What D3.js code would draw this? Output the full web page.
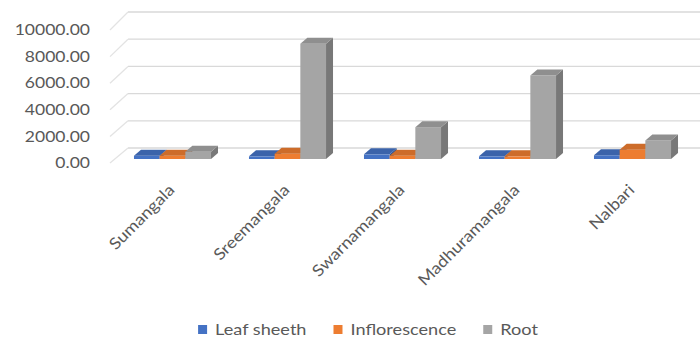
<!DOCTYPE html>
<html>
<head>
<meta charset="utf-8">
<script src="https://cdn.jsdelivr.net/npm/d3@7"></script>
<style>
  html, body { margin: 0; padding: 0; background: #ffffff; }
  svg { display: block; }
  text { font-family: Lato, "Open Sans", sans-serif; fill: #595959; }
</style>
</head>
<body>
<svg id="chart" width="700" height="340"></svg>
<script>
// Varieties along the category axis
const categories = ["Sumangala", "Sreemangala", "Swarnamangala", "Madhuramangala", "Nalbari"];
// Plant parts (series)
const seriesNames = ["Leaf sheeth", "Inflorescence", "Root"];
const leafSheath = [250, 200, 350, 200, 280];
const inflorescence = [250, 400, 250, 200, 700];
const root = [550, 8700, 2400, 6300, 1400];
const seriesColors = ["#4472c4", "#ed7d31", "#a5a5a5"];
// Value axis ticks
const yTicks = [0, 2000, 4000, 6000, 8000, 10000];
const yTickLabels = ["0.00", "2000.00", "4000.00", "6000.00", "8000.00", "10000.00"];

const seriesValues = [leafSheath, inflorescence, root];
const svg = d3.select("#chart");

// Category bands and bars within each band
const x = d3.scaleBand().domain(categories).range([115, 690])
  .paddingInner(0.33).paddingOuter(0.165);
const xs = d3.scaleBand().domain(seriesNames).range([0, x.bandwidth()]);

// Front plane of the bars, front edge of the floor, back wall
const y = d3.scaleLinear().domain([0, 10000]).range([159, 26.5]);
const yFront = d3.scaleLinear().domain([0, 10000]).range([163, 30]);
const yBack = d3.scaleLinear().domain([0, 10000]).range([148, 12]);
const wallLeft = 128, frontLeft = 110, rightEdge = 700;

// Gridlines on the back wall plus the side-wall diagonals
const grid = svg.append("g");
yTicks.forEach(v => {
  grid.append("line")
    .attr("x1", wallLeft).attr("x2", rightEdge)
    .attr("y1", yBack(v)).attr("y2", yBack(v))
    .attr("stroke", "#d9d9d9").attr("stroke-width", 1.3);
  grid.append("line")
    .attr("x1", frontLeft).attr("y1", yFront(v))
    .attr("x2", wallLeft).attr("y2", yBack(v))
    .attr("stroke", "#e3e3e3").attr("stroke-width", 1.3);
});

// Value axis labels (glyphs slightly widened)
svg.append("g").selectAll("text").data(yTicks).join("text")
  .attr("transform", d => `translate(90,${yFront(d)}) scale(1.17,1)`)
  .attr("text-anchor", "end")
  .attr("dy", "0.35em")
  .style("font-size", "15px")
  .text((d, i) => yTickLabels[i]);

// 3D columns: front face, top face, right side face
const dx = 7, dy = -6;
const bars = [];
categories.forEach((c, ci) => {
  seriesNames.forEach((s, si) => {
    bars.push({ c, s, v: seriesValues[si][ci], color: seriesColors[si] });
  });
});
const barG = svg.append("g");
bars.forEach(b => {
  const x0 = x(b.c) + xs(b.s);
  const w = xs.bandwidth();
  const yt = y(b.v), yb = y(0);
  const base = d3.color(b.color);
  const g = barG.append("g");
  g.append("path")
    .attr("d", `M${x0 + w},${yt}L${x0 + w + dx},${yt + dy}L${x0 + w + dx},${yb + dy}L${x0 + w},${yb}Z`)
    .attr("fill", base.darker(0.9));
  g.append("rect")
    .attr("x", x0).attr("y", yt)
    .attr("width", w).attr("height", yb - yt)
    .attr("fill", base.formatHex());
  g.append("path")
    .attr("d", `M${x0},${yt}L${x0 + w},${yt}L${x0 + w + dx},${yt + dy}L${x0 + dx},${yt + dy}Z`)
    .attr("fill", base.darker(0.4));
});

// Category labels, rotated
svg.append("g").selectAll("text").data(categories).join("text")
  .attr("transform", d => `translate(${x(d) + x.bandwidth() / 2 + 3},191) rotate(-45) scale(1.12,1)`)
  .attr("text-anchor", "end")
  .style("font-size", "16px")
  .text(d => d);

// Legend
const legend = svg.append("g");
const items = seriesNames.map((s, i) => {
  const g = legend.append("g");
  g.append("rect").attr("x", 0).attr("y", -5).attr("width", 9).attr("height", 9)
    .attr("fill", seriesColors[i]);
  const t = g.append("text")
    .attr("transform", "translate(17,0) scale(1.17,1)")
    .attr("dy", "0.35em")
    .style("font-size", "15.5px")
    .text(s);
  return { g, w: 17 + t.node().getComputedTextLength() * 1.17 };
});
const gap = 27;
const total = d3.sum(items, d => d.w) + gap * (items.length - 1);
let lx = 368 - total / 2;
items.forEach(it => {
  it.g.attr("transform", `translate(${lx},330)`);
  lx += it.w + gap;
});
</script>
</body>
</html>
